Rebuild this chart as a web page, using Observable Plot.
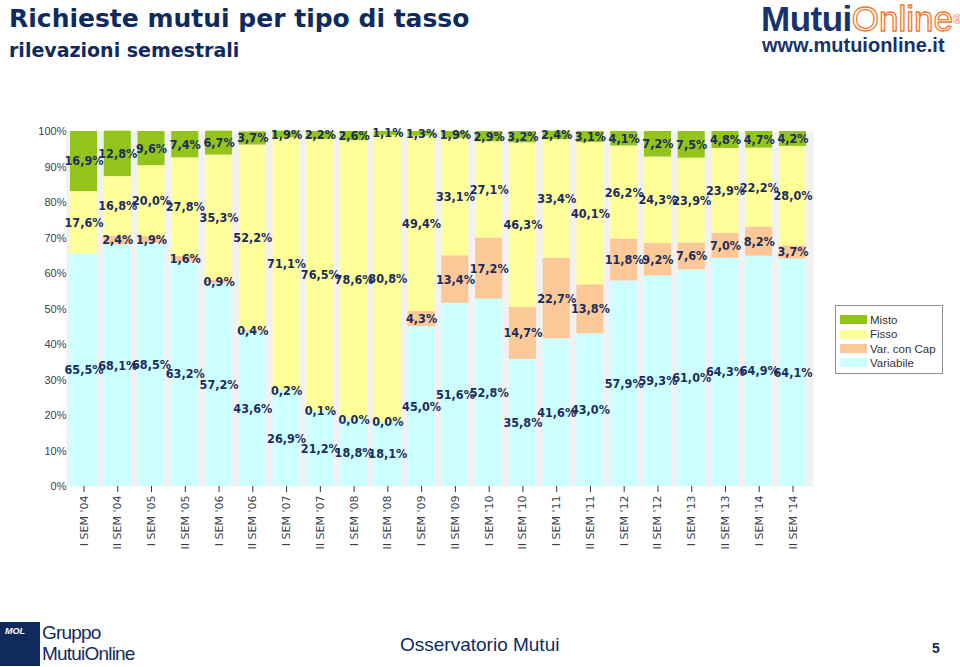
<!DOCTYPE html>
<html>
<head>
<meta charset="utf-8">
<script src="https://cdn.jsdelivr.net/npm/d3@7"></script>
<script src="https://cdn.jsdelivr.net/npm/@observablehq/plot@0.6"></script>
<style>
  html, body { margin: 0; padding: 0; background: #fff; }
  body { width: 960px; height: 667px; position: relative; overflow: hidden; font-family: "Liberation Sans", Arial, sans-serif; }
  .abs { position: absolute; white-space: nowrap; }
  #title { left: 9px; top: 4px; font-family: "DejaVu Sans", sans-serif; font-weight: bold; font-size: 25px; color: #0f2b5e; line-height: 30px; }
  #subtitle { left: 9px; top: 38px; font-family: "DejaVu Sans", sans-serif; font-weight: bold; font-size: 19px; color: #0f2b5e; line-height: 24px; }
  #chart { position: absolute; left: 0; top: 120px; }
  #chart svg g[aria-label="text"] text { font-stretch: condensed; }
  #legend { left: 835px; top: 305px; width: 106px; height: 67px; border: 1px solid #8c9098; background: #fff; }
  .li { position: absolute; left: 4px; height: 14px; font-size: 11.5px; color: #333; line-height: 14px; }
  .sw { display: inline-block; width: 27px; height: 9px; vertical-align: middle; margin-right: 3px; margin-top: -2px; }
  #logo1 { left: 761px; top: 3px; font-size: 35px; line-height: 31px; font-weight: bold; color: #16336b; letter-spacing: -0.5px; }
  #logo1 .on { color: #fff; -webkit-text-stroke: 1.3px #f07a2a; font-weight: normal; letter-spacing: 0; }
  #logo1 .r { font-size: 12px; color: #f07a2a; vertical-align: top; font-weight: normal; -webkit-text-stroke: 0; position: relative; top: 2px; }
  #logo2 { left: 762px; top: 35px; font-size: 20px; font-weight: bold; color: #16336b; line-height: 20px; }
  #mol { left: 0px; top: 622px; width: 40px; height: 44px; background: #0f2b5e; }
  #moltxt { left: 5px; top: 626px; font-size: 9px; font-weight: bold; font-style: italic; color: #fff; }
  #gruppo { left: 42px; top: 622px; font-size: 19px; line-height: 21px; color: #0f2b5e; letter-spacing: -0.8px; font-family: "Liberation Sans Narrow", "Liberation Sans", sans-serif; }
  #oss { left: 400px; top: 634px; font-size: 19px; color: #0f2b5e; }
  #page { left: 932px; top: 640px; font-size: 14px; font-weight: bold; color: #0f2b5e; }
</style>
</head>
<body>
<div id="title" class="abs">Richieste mutui per tipo di tasso</div>
<div id="subtitle" class="abs">rilevazioni semestrali</div>
<div id="logo1" class="abs">Mutui<span class="on">Online</span><span class="r">®</span></div>
<div id="logo2" class="abs">www.mutuionline.it</div>
<div id="chart"></div>
<div id="legend" class="abs"></div>
<div id="mol" class="abs"></div>
<div id="moltxt" class="abs">MOL</div>
<div id="gruppo" class="abs">Gruppo<br>MutuiOnline</div>
<div id="oss" class="abs">Osservatorio Mutui</div>
<div id="page" class="abs">5</div>
<script>
const periods = ["I SEM '04","II SEM '04","I SEM '05","II SEM '05","I SEM '06","II SEM '06","I SEM '07","II SEM '07","I SEM '08","II SEM '08","I SEM '09","II SEM '09","I SEM '10","II SEM '10","I SEM '11","II SEM '11","I SEM '12","II SEM '12","I SEM '13","II SEM '13","I SEM '14","II SEM '14"];
const variabile = [65.5,68.1,68.5,63.2,57.2,43.6,26.9,21.2,18.8,18.1,45.0,51.6,52.8,35.8,41.6,43.0,57.9,59.3,61.0,64.3,64.9,64.1];
const varConCap = [null,2.4,1.9,1.6,0.9,0.4,0.2,0.1,0.0,0.0,4.3,13.4,17.2,14.7,22.7,13.8,11.8,9.2,7.6,7.0,8.2,3.7];
const fisso     = [17.6,16.8,20.0,27.8,35.3,52.2,71.1,76.5,78.6,80.8,49.4,33.1,27.1,46.3,33.4,40.1,26.2,24.3,23.9,23.9,22.2,28.0];
const misto     = [16.9,12.8,9.6,7.4,6.7,3.7,1.9,2.2,2.6,1.1,1.3,1.9,2.9,3.2,2.4,3.1,4.1,7.2,7.5,4.8,4.7,4.2];
const seriesNames = ["Variabile","Var. con Cap","Fisso","Misto"];
const seriesColors = ["#ccffff","#fcc897","#ffff99","#92c41a"];
const yTicks = [0,10,20,30,40,50,60,70,80,90,100];

const seriesValues = [variabile, varConCap, fisso, misto];
const rows = [];
periods.forEach((p, i) => {
  seriesNames.forEach((s, k) => {
    const v = seriesValues[k][i];
    rows.push({period: p, type: s, value: v == null ? 0 : v, show: v != null});
  });
});

const fmt = v => v.toFixed(1).replace(".", ",") + "%";

const chart = Plot.plot({
  width: 960,
  height: 440,
  marginTop: 11,
  marginBottom: 74,
  marginLeft: 66,
  marginRight: 147,
  style: {fontFamily: "Liberation Sans, Arial, sans-serif", background: "transparent"},
  x: {domain: periods, range: [63.25, 812.75], paddingInner: 0.2, paddingOuter: 0.2, align: 0.5, round: false, label: null},
  y: {domain: [0, 100], label: null},
  color: {domain: seriesNames, range: seriesColors},
  marks: [
    Plot.frame({fill: "#f1f1f1", stroke: null}),
    Plot.barY(rows, {x: "period", y: "value", fill: "type", z: "type", order: seriesNames}),
    Plot.text(rows, Plot.stackY({
      x: "period", y: "value", z: "type", order: seriesNames,
      filter: d => d.show,
      text: d => fmt(d.value),
      fill: "#1b2d5c", fontSize: 12.5, fontWeight: "bold",
      fontFamily: "DejaVu Sans Condensed, DejaVu Sans, sans-serif",
      stroke: null
    })),
    Plot.axisY({ticks: yTicks, tickSize: 0, tickPadding: 0, tickFormat: d => d + "%", fontSize: 11, color: "#3a3f4a"}),
    Plot.axisX({tickSize: 6, tickRotate: -90, tickPadding: 3, fontSize: 11, fontFamily: "DejaVu Sans, sans-serif", color: "#3a3f4a", stroke: "#333"})
  ]
});
document.getElementById("chart").appendChild(chart);

const legend = document.getElementById("legend");
const legendOrder = ["Misto","Fisso","Var. con Cap","Variabile"];
legendOrder.forEach((name, i) => {
  const el = document.createElement("div");
  el.className = "li";
  el.style.top = (7 + i * 14.3) + "px";
  const sw = document.createElement("span");
  sw.className = "sw";
  sw.style.background = seriesColors[seriesNames.indexOf(name)];
  el.appendChild(sw);
  el.appendChild(document.createTextNode(name));
  legend.appendChild(el);
});
</script>
</body>
</html>
